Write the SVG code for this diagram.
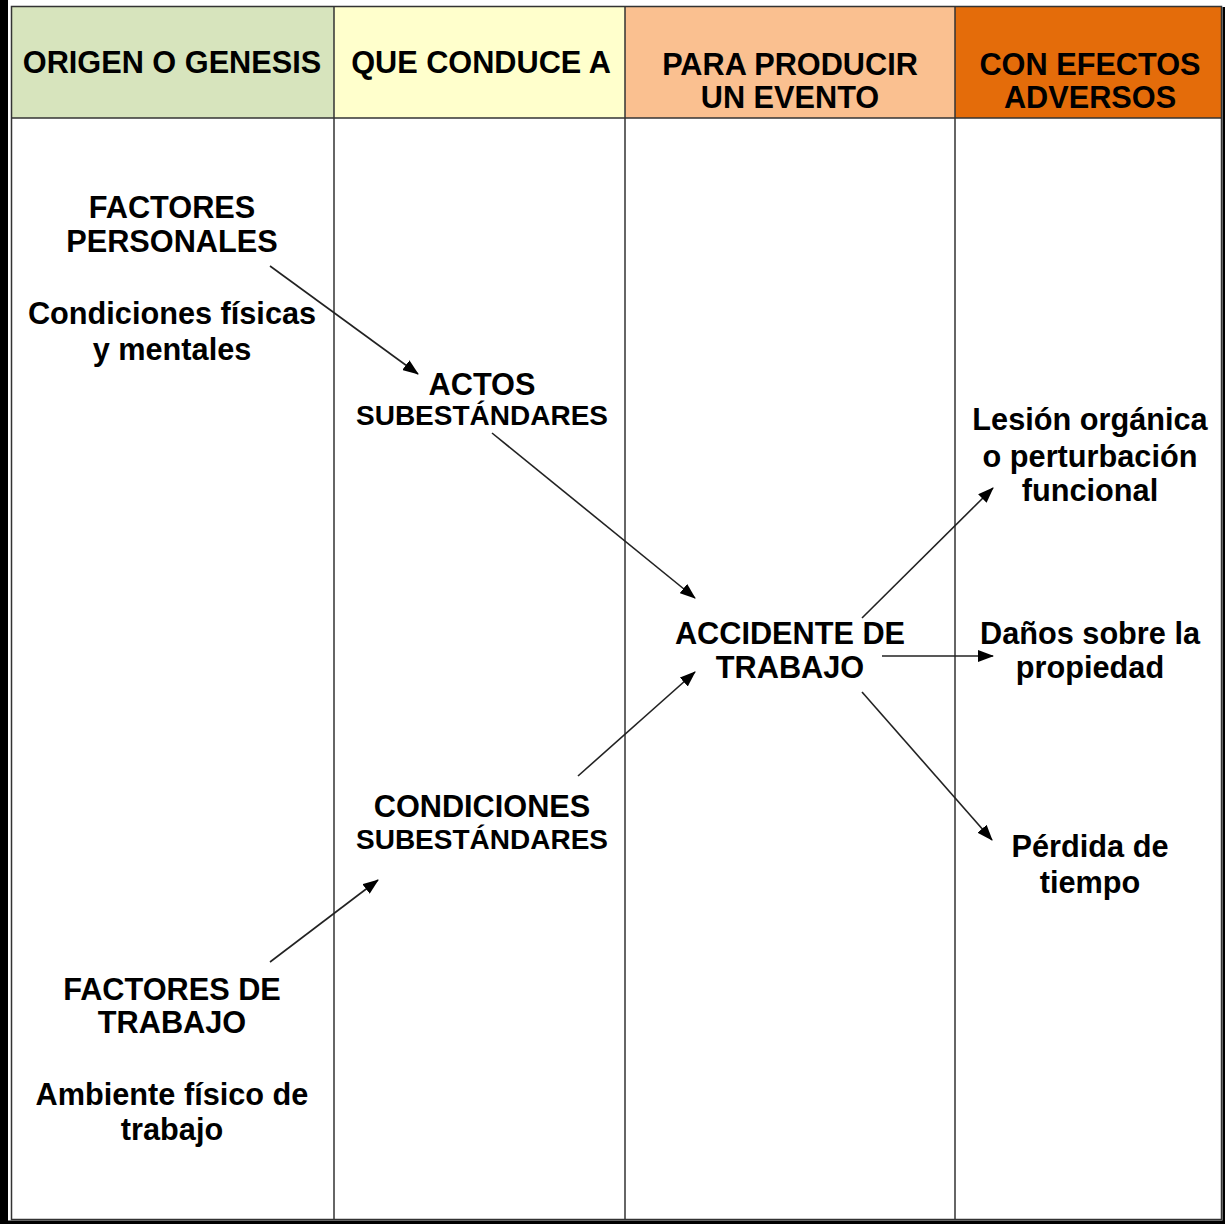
<svg xmlns="http://www.w3.org/2000/svg" width="1225" height="1224" viewBox="0 0 1225 1224">
<defs>
<style>
text{font-family:"Liberation Sans",Arial,sans-serif;font-weight:bold;font-size:30.7px;fill:#000;text-anchor:middle}
text.sm{font-size:28px}
.grid{stroke:#333;stroke-width:1.5;fill:none}
.conn line{stroke:#222;stroke-width:1.6;marker-end:url(#ah)}
</style>
<marker id="ah" viewBox="0 0 16 12" refX="15" refY="6" markerWidth="16" markerHeight="12" markerUnits="userSpaceOnUse" orient="auto">
<path d="M0,0 L16,6 L0,12 Z" fill="#000"/>
</marker>
</defs>
<rect width="1225" height="1224" fill="#fff"/>
<g id="header">
<rect x="12" y="7" width="322" height="111" fill="#D7E4BD"/>
<rect x="334" y="7" width="291" height="111" fill="#FFFFCC"/>
<rect x="625" y="7" width="330" height="111" fill="#FAC090"/>
<rect x="955" y="7" width="267" height="111" fill="#E46C0A"/>
<text x="172" y="73">ORIGEN O GENESIS</text>
<text x="481" y="73">QUE CONDUCE A</text>
<text x="790" y="75">PARA PRODUCIR</text>
<text x="790" y="108">UN EVENTO</text>
<text x="1090" y="75">CON EFECTOS</text>
<text x="1090" y="108">ADVERSOS</text>
</g>
<g id="frame">
<rect x="11.5" y="6.5" width="1210" height="1213" class="grid"/>
<line x1="11.5" y1="118" x2="1221.5" y2="118" class="grid"/>
<line x1="334" y1="7" x2="334" y2="1219" class="grid"/>
<line x1="625" y1="7" x2="625" y2="1219" class="grid"/>
<line x1="955" y1="7" x2="955" y2="1219" class="grid"/>
<rect x="0" y="0" width="8" height="1224" fill="#000"/>
<rect x="1222.5" y="7" width="2.5" height="1217" fill="#000"/>
<rect x="0" y="1220.5" width="1225" height="3.5" fill="#000"/>
</g>
<g id="factores-personales">
<text x="172" y="218">FACTORES</text>
<text x="172" y="252">PERSONALES</text>
<text x="172" y="324">Condiciones físicas</text>
<text x="172" y="360">y mentales</text>
</g>
<g id="factores-trabajo">
<text x="172" y="1000">FACTORES DE</text>
<text x="172" y="1033">TRABAJO</text>
<text x="172" y="1105">Ambiente físico de</text>
<text x="172" y="1140">trabajo</text>
</g>
<g id="actos">
<text x="482" y="395">ACTOS</text>
<text class="sm" x="482" y="425">SUBESTÁNDARES</text>
</g>
<g id="condiciones">
<text x="482" y="817">CONDICIONES</text>
<text class="sm" x="482" y="849">SUBESTÁNDARES</text>
</g>
<g id="accidente">
<text x="790" y="644">ACCIDENTE DE</text>
<text x="790" y="678">TRABAJO</text>
</g>
<g id="lesion">
<text x="1090" y="430">Lesión orgánica</text>
<text x="1090" y="467">o perturbación</text>
<text x="1090" y="501">funcional</text>
</g>
<g id="danos">
<text x="1090" y="644">Daños sobre la</text>
<text x="1090" y="678">propiedad</text>
</g>
<g id="perdida">
<text x="1090" y="857">Pérdida de</text>
<text x="1090" y="893">tiempo</text>
</g>
<g class="conn" id="connectors">
<line x1="270" y1="266" x2="418" y2="374"/>
<line x1="492" y1="433" x2="695" y2="598"/>
<line x1="578" y1="776" x2="695" y2="672"/>
<line x1="270" y1="962" x2="378" y2="880"/>
<line x1="862" y1="618" x2="993" y2="488"/>
<line x1="882" y1="656" x2="993" y2="656"/>
<line x1="862" y1="692" x2="992" y2="840"/>
</g>
</svg>
